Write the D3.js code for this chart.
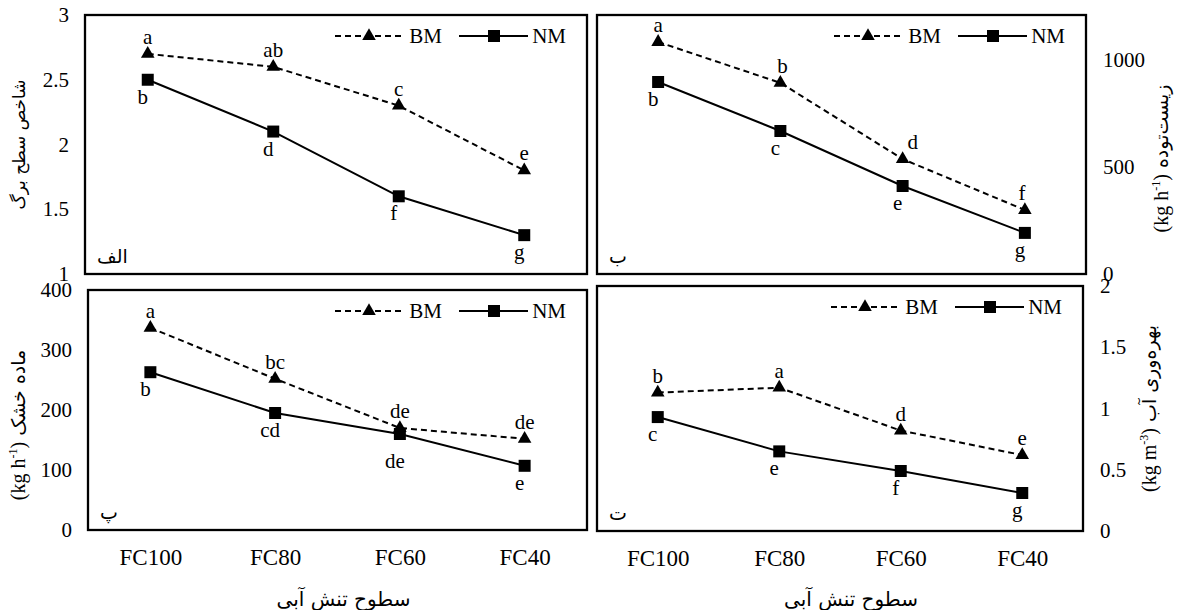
<!DOCTYPE html>
<html>
<head>
<meta charset="utf-8">
<script src="https://cdn.jsdelivr.net/npm/d3@7"></script>
</head>
<body style="margin:0;background:#fff">
<svg id="chart" width="1182" height="610" font-family="Liberation Serif"></svg>
<script>
// water stress levels
var categories = ["FC100", "FC80", "FC60", "FC40"];
var seriesNames = ["BM", "NM"];

// leaf area index
var laiBM = [2.7, 2.6, 2.3, 1.8];
var laiNM = [2.5, 2.1, 1.6, 1.3];
var laiBMLetters = ["a", "ab", "c", "e"];
var laiNMLetters = ["b", "d", "f", "g"];
var laiTicks = [1, 1.5, 2, 2.5, 3];

// biomass
var bioBM = [1084, 893, 537, 299];
var bioNM = [897, 668, 411, 192];
var bioBMLetters = ["a", "b", "d", "f"];
var bioNMLetters = ["b", "c", "e", "g"];
var bioTicks = [0, 500, 1000];

// dry matter
var dmBM = [337, 252, 170, 152];
var dmNM = [263, 195, 160, 107];
var dmBMLetters = ["a", "bc", "de", "de"];
var dmNMLetters = ["b", "cd", "de", "e"];
var dmTicks = [0, 100, 200, 300, 400];

// water productivity
var wpBM = [1.13, 1.17, 0.82, 0.62];
var wpNM = [0.93, 0.65, 0.49, 0.31];
var wpBMLetters = ["b", "a", "d", "e"];
var wpNMLetters = ["c", "e", "f", "g"];
var wpTicks = [0, 0.5, 1, 1.5, 2];

var xTitle = "سطوح تنش آبی";

var serif = "Liberation Serif";
var persian = "DejaVu Sans";
var svg = d3.select("#chart");

// Draws the rotated y title: optional unit part then the persian words
var drawYTitle = function(x, y, fa, unit) {
    var t = svg.append("text")
        .attr("transform", "translate(" + x + "," + y + ") rotate(-90)")
        .attr("text-anchor", "middle")
        .attr("font-family", serif)
        .attr("font-size", 20);
    if (unit) {
        t.append("tspan").attr("font-family", serif).text(unit[0]);
        t.append("tspan").attr("font-family", serif).text(unit[1]).attr("font-size", 12).attr("dy", -8);
        t.append("tspan").attr("font-family", serif).text(unit[2]).attr("dy", 8);
        t.append("tspan").attr("font-family", persian).attr("font-size", 19).text(" " + fa);
    } else {
        t.attr("font-family", persian).attr("font-size", 17).attr("direction", "rtl").text(fa);
    }
}

var triangle = d3.symbol().type(d3.symbolTriangle).size(80);
var square = d3.symbol().type(d3.symbolSquare).size(144);

// Draws one of the four panels
var drawPanel = function(p) {
    var xScale = d3.scalePoint()
        .domain(categories)
        .range([p.x0, p.x1])
        .padding(0.5);
    var yScale = d3.scaleLinear()
        .domain([p.ticks[0], p.max])
        .range([p.y1, p.y0]);

    // y axis
    var yAxis = (p.right ? d3.axisRight(yScale) : d3.axisLeft(yScale))
        .tickValues(p.ticks)
        .tickSize(0)
        .tickPadding(p.right ? 17 : 16)
        .tickFormat(function(d) { return d; });
    var ya = svg.append("g")
        .attr("transform", "translate(" + (p.right ? p.x1 : p.x0) + ",0)")
        .call(yAxis);
    ya.select(".domain").remove();
    ya.selectAll("text")
        .attr("font-family", serif)
        .attr("font-size", 21);

    // x axis on the bottom row
    if (p.xTicks) {
        var xa = svg.append("g")
            .attr("transform", "translate(0," + p.y1 + ")")
            .call(d3.axisBottom(xScale).tickSize(0).tickPadding(19));
        xa.select(".domain").remove();
        xa.selectAll("text")
            .attr("font-family", serif)
            .attr("font-size", 23);
        svg.append("text")
            .attr("font-family", persian)
            .attr("x", (p.x0 + p.x1) / 2 + p.xTitleShift)
            .attr("y", 606)
            .attr("text-anchor", "middle")
            .attr("font-size", 20)
            .attr("direction", "rtl")
            .text(xTitle);
    }

    // series lines
    var line = d3.line()
        .x(function(d, i) { return xScale(categories[i]); })
        .y(function(d) { return yScale(d); });
    var g = svg.append("g");
    g.append("path")
        .datum(p.bm)
        .attr("d", line)
        .attr("fill", "none")
        .attr("stroke", "#000")
        .attr("stroke-width", 2)
        .attr("stroke-dasharray", "6,4");
    g.append("path")
        .datum(p.nm)
        .attr("d", line)
        .attr("fill", "none")
        .attr("stroke", "#000")
        .attr("stroke-width", 2);

    g.selectAll(".tri")
        .data(p.bm)
        .enter()
        .append("path")
        .attr("d", triangle)
        .attr("transform", function(d, i) {
            return "translate(" + xScale(categories[i]) + "," + yScale(d) + ")";
        });
    g.selectAll(".sq")
        .data(p.nm)
        .enter()
        .append("path")
        .attr("d", square)
        .attr("transform", function(d, i) {
            return "translate(" + xScale(categories[i]) + "," + yScale(d) + ")";
        });

    // letters of mean comparison
    g.selectAll(".lbm")
        .data(p.bm)
        .enter()
        .append("text")
        .attr("x", function(d, i) { return xScale(categories[i]) + (p.bmShift[i] || 0); })
        .attr("y", function(d) { return yScale(d) - 10; })
        .attr("text-anchor", "middle")
        .attr("font-family", serif)
        .attr("font-size", 21)
        .text(function(d, i) { return p.bmLetters[i]; });
    g.selectAll(".lnm")
        .data(p.nm)
        .enter()
        .append("text")
        .attr("x", function(d, i) { return xScale(categories[i]) - 5; })
        .attr("y", function(d, i) { return yScale(d) + 24 + (p.nmDrop[i] || 0); })
        .attr("text-anchor", "middle")
        .attr("font-family", serif)
        .attr("font-size", 21)
        .text(function(d, i) { return p.nmLetters[i]; });

    // legend
    var lr = p.x1 - 21, ly = p.y0 + 21;
    var leg = svg.append("g");
    leg.append("line")
        .attr("x1", lr - 231).attr("x2", lr - 162)
        .attr("y1", ly).attr("y2", ly)
        .attr("stroke", "#000").attr("stroke-width", 2)
        .attr("stroke-dasharray", "6,4");
    leg.append("path").attr("d", triangle)
        .attr("transform", "translate(" + (lr - 197) + "," + ly + ")");
    leg.append("text")
        .attr("x", lr - 124).attr("y", ly + 7)
        .attr("text-anchor", "end")
        .attr("font-family", serif)
        .attr("font-size", 21)
        .text(seriesNames[0]);
    leg.append("line")
        .attr("x1", lr - 107).attr("x2", lr - 38)
        .attr("y1", ly).attr("y2", ly)
        .attr("stroke", "#000").attr("stroke-width", 2);
    leg.append("path").attr("d", square)
        .attr("transform", "translate(" + (lr - 72) + "," + ly + ")");
    leg.append("text")
        .attr("x", lr).attr("y", ly + 7)
        .attr("text-anchor", "end")
        .attr("font-family", serif)
        .attr("font-size", 21)
        .text(seriesNames[1]);

    // panel tag
    svg.append("text")
        .attr("font-family", persian)
        .attr("x", p.x0 + 12)
        .attr("y", p.y1 - 11)
        .attr("font-size", 19)
        .text(p.tag);

    // frame
    svg.append("rect")
        .attr("x", p.x0).attr("y", p.y0)
        .attr("width", p.x1 - p.x0).attr("height", p.y1 - p.y0)
        .attr("fill", "none")
        .attr("stroke", "#000")
        .attr("stroke-width", 2.3);

    drawYTitle(p.titleX, (p.y0 + p.y1) / 2 + p.titleShift, p.title, p.unit);
}

drawPanel({
    x0: 85, x1: 587, y0: 15, y1: 274, right: false,
    ticks: laiTicks, max: 3, bm: laiBM, nm: laiNM,
    bmLetters: laiBMLetters, nmLetters: laiNMLetters,
    bmShift: [], nmDrop: [],
    tag: "الف", title: "شاخص سطح برگ", unit: null,
    titleX: 25, titleShift: 0
});
drawPanel({
    x0: 597, x1: 1086, y0: 15, y1: 274, right: true,
    ticks: bioTicks, max: 1210, bm: bioBM, nm: bioNM,
    bmLetters: bioBMLetters, nmLetters: bioNMLetters,
    bmShift: [0, 2, 10, -3], nmDrop: [],
    tag: "ب", title: "زیست‌توده", unit: ["(kg h", "-1", ")"],
    titleX: 1168, titleShift: 14
});
drawPanel({
    x0: 88, x1: 587, y0: 290, y1: 530, right: false, xTicks: true, xTitleShift: 6,
    ticks: dmTicks, max: 400, bm: dmBM, nm: dmNM,
    bmLetters: dmBMLetters, nmLetters: dmNMLetters,
    bmShift: [], nmDrop: [0, 0, 10, 0],
    tag: "پ", title: "ماده خشک", unit: ["(kg h", "-1", ")"],
    titleX: 25, titleShift: 15
});
drawPanel({
    x0: 597, x1: 1083, y0: 286, y1: 531, right: true, xTicks: true, xTitleShift: 11,
    ticks: wpTicks, max: 2, bm: wpBM, nm: wpNM,
    bmLetters: wpBMLetters, nmLetters: wpNMLetters,
    bmShift: [], nmDrop: [],
    tag: "ت", title: "بهره‌وری آب", unit: ["(kg m", "-3", ")"],
    titleX: 1156, titleShift: 0
});
</script>
</body>
</html>
